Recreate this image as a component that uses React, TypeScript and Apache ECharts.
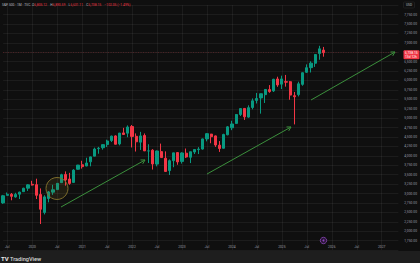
import React, { useEffect, useRef } from "react";
import * as echarts from "echarts";

// Monthly S&P 500 candles, Jun 2019 .. Nov 2025
const START_YEAR = 2019;
const START_MONTH = 6;
const MONTH_COUNT = 96; // axis runs to May 2027

const openValues = [
  2751, 2952, 2980, 2910, 2983, 3050, 3143,
  3245, 3236, 2974, 2499, 2869, 3038, 3105, 3289, 3507, 3386, 3296, 3645,
  3764, 3732, 3842, 3992, 4191, 4216, 4300, 4407, 4529, 4317, 4610, 4602,
  4778, 4519, 4363, 4540, 4131, 4150, 3782, 4113, 3937, 3610, 3872, 4087,
  3853, 4071, 3963, 4102, 4166, 4181, 4450, 4578, 4530, 4284, 4202, 4559,
  4745, 4862, 5098, 5258, 5029, 5283, 5471, 5537, 5624, 5758, 5723, 6040,
  5903, 5969, 5968, 5597, 5625, 5897, 6218, 6340, 6458, 6715, 6806,
];
const closeValues = [
  2942, 2980, 2926, 2977, 3038, 3141, 3231,
  3226, 2954, 2585, 2912, 3044, 3100, 3271, 3500, 3363, 3270, 3622, 3756,
  3714, 3811, 3973, 4181, 4204, 4298, 4395, 4523, 4308, 4605, 4567, 4766,
  4516, 4374, 4530, 4132, 4132, 3785, 4130, 3955, 3586, 3872, 4080, 3840,
  4077, 3970, 4109, 4169, 4180, 4450, 4589, 4508, 4288, 4194, 4568, 4770,
  4846, 5096, 5254, 5036, 5278, 5460, 5522, 5648, 5762, 5705, 6032, 5882,
  6041, 5955, 5612, 5569, 5912, 6205, 6339, 6460, 6688, 6840, 6738.15,
];
const lowValues = [
  2728, 2952, 2822, 2892, 2855, 3050, 3070,
  3214, 2855, 2192, 2447, 2767, 2966, 3101, 3284, 3209, 3233, 3279, 3633,
  3662, 3725, 3723, 3992, 4057, 4165, 4234, 4367, 4306, 4279, 4560, 4495,
  4223, 4115, 4157, 4129, 3811, 3637, 3722, 3955, 3585, 3492, 3699, 3764,
  3795, 3944, 3809, 4049, 4048, 4166, 4385, 4335, 4238, 4104, 4197, 4547,
  4682, 4853, 5057, 4953, 5012, 5234, 5390, 5120, 5403, 5674, 5696, 5832,
  5773, 5837, 5489, 4835, 5578, 5861, 6201, 6212, 6360, 6550, 6631,
];
const highValues = [
  2964, 3028, 3014, 3021, 3050, 3154, 3248,
  3338, 3394, 3137, 2955, 3068, 3233, 3280, 3525, 3588, 3550, 3646, 3760,
  3870, 3950, 3983, 4218, 4238, 4302, 4429, 4538, 4546, 4608, 4744, 4808,
  4819, 4596, 4637, 4594, 4308, 4178, 4140, 4325, 4119, 3906, 4080, 4101,
  4095, 4195, 4110, 4170, 4232, 4458, 4607, 4584, 4541, 4393, 4587, 4793,
  4931, 5111, 5264, 5264, 5341, 5523, 5670, 5651, 5768, 5878, 6044, 6100,
  6128, 6147, 5986, 5696, 5968, 6215, 6427, 6508, 6700, 6920, 6890,
];

const titleParts = ["S&P 500 · 1M · TVC", "6,805.12", "6,890.59", "6,631.11", "6,738.15", "−102.05 (−1.49%)"];
const lastPriceLabel = "6,738.15";
const countdownLabel = "13d 12h";

const categories: string[] = [];
for (let i = 0; i < MONTH_COUNT; i++) {
  const m0 = START_MONTH - 1 + i;
  const y = START_YEAR + Math.floor(m0 / 12);
  const m = (m0 % 12) + 1;
  categories.push(`${y}-${String(m).padStart(2, "0")}`);
}
const candleData = openValues.map((o, i) => [o, closeValues[i], lowValues[i], highValues[i]]);
const lastClose = closeValues[closeValues.length - 1];

const UP = "#089981";
const DOWN = "#f23645";
const TEXT = "#9a9da6";
const FONT = "Roboto, 'Noto Sans', sans-serif";
const FS = 3.3;

const isLabelMonth = (v: string) => v.endsWith("-01") || v.endsWith("-07");

function arrow(x1: number, y1: number, x2: number, y2: number, color: string) {
  const a = Math.atan2(y2 - y1, x2 - x1);
  const L = 4.5;
  const s = Math.PI / 6;
  const p1 = [x2 - L * Math.cos(a - s), y2 - L * Math.sin(a - s)];
  const p2 = [x2 - L * Math.cos(a + s), y2 - L * Math.sin(a + s)];
  return [
    { type: "line", z: 50, shape: { x1, y1, x2, y2 }, style: { stroke: color, lineWidth: 1 } },
    { type: "polyline", z: 50, shape: { points: [p1, [x2, y2], p2] }, style: { stroke: color, lineWidth: 1, fill: null } },
  ];
}

export default function App() {
  const ref = useRef<HTMLDivElement>(null);
  useEffect(() => {
    const chart = echarts.init(ref.current!, undefined, { renderer: "svg", width: 420, height: 263 });
    chart.setOption({
      animation: false,
      backgroundColor: "#0f0f0f",
      textStyle: { fontFamily: FONT },
      grid: { left: 3.08, right: 21.1, top: 5.1, bottom: 12.9 },
      xAxis: {
        type: "category",
        data: categories,
        boundaryGap: false,
        axisLine: { show: false },
        axisTick: { show: false },
        axisLabel: {
          inside: true,
          margin: 1.5,
          interval: (_i: number, v: string) => isLabelMonth(v),
          formatter: (v: string) => (v.endsWith("-07") ? "Jul" : v.slice(0, 4)),
          color: TEXT,
          fontSize: FS,
          fontFamily: FONT,
        },
        splitLine: {
          show: true,
          interval: (_i: number, v: string) => isLabelMonth(v),
          lineStyle: { color: "rgba(242,242,242,0.06)", width: 1 },
        },
      },
      yAxis: {
        type: "value",
        position: "right",
        min: 1500,
        max: 8000,
        interval: 250,
        axisLine: { show: false },
        axisTick: { show: false },
        axisLabel: {
          margin: 6,
          showMinLabel: false,
          showMaxLabel: false,
          color: TEXT,
          fontSize: FS,
          fontFamily: FONT,
          formatter: (v: number) => v.toLocaleString("en-US", { minimumFractionDigits: 2, maximumFractionDigits: 2 }),
        },
        splitLine: { show: true, lineStyle: { color: "rgba(242,242,242,0.06)", width: 1 } },
      },
      series: [
        {
          type: "candlestick",
          data: candleData,
          barWidth: "64%",
          itemStyle: { color: UP, color0: DOWN, borderColor: UP, borderColor0: DOWN, borderWidth: 1 },
          markLine: {
            silent: true,
            symbol: "none",
            label: { show: false },
            lineStyle: { color: "rgba(242,54,69,0.32)", type: [1, 1.5], width: 0.8 },
            data: [{ yAxis: lastClose }],
          },
        },
      ],
    });

    const yPix = chart.convertToPixel({ yAxisIndex: 0 }, lastClose) as number;
    const xPix = chart.convertToPixel({ xAxisIndex: 0 }, categories[openValues.length - 1]) as number;
    const green = "#3b8f3c";
    const g: any[] = [
      {
        type: "text",
        z: 60,
        x: 2,
        y: 4.5,
        style: {
          text: `{g|${titleParts[0]}  O}{r|${titleParts[1]}} {g|H}{r|${titleParts[2]}} {g|L}{r|${titleParts[3]}} {g|C}{r|${titleParts[4]}} {r|${titleParts[5]}}`,
          verticalAlign: "middle",
          rich: {
            g: { fill: "#b2b5be", fontSize: FS, fontFamily: FONT },
            r: { fill: DOWN, fontSize: FS, fontFamily: FONT },
          },
        },
      },
      {
        type: "rect",
        z: 60,
        shape: { x: 403.5, y: 2, width: 11, height: 6, r: 1 },
        style: { fill: "#0f0f0f", stroke: "#2e2e2e", lineWidth: 0.5 },
      },
      {
        type: "text",
        z: 61,
        x: 409,
        y: 5,
        style: { text: "USD", fill: "#b2b5be", fontSize: FS, fontFamily: FONT, align: "center", verticalAlign: "middle" },
      },
      {
        type: "rect",
        z: 60,
        shape: { x: 403.5, y: yPix - 2.4, width: 16, height: 9, r: 1 },
        style: { fill: DOWN },
      },
      {
        type: "text",
        z: 61,
        x: 405,
        y: yPix,
        style: { text: lastPriceLabel, fill: "#ffffff", fontSize: FS, fontFamily: FONT, verticalAlign: "middle" },
      },
      {
        type: "text",
        z: 61,
        x: 405,
        y: yPix + 4,
        style: { text: countdownLabel, fill: "#ffffff", fontSize: FS, fontFamily: FONT, verticalAlign: "middle" },
      },
      {
        type: "circle",
        z: 40,
        shape: { cx: 57, cy: 188.5, r: 11 },
        style: { fill: "rgba(140,120,40,0.14)", stroke: "#7d6d2c", lineWidth: 1 },
      },
      ...arrow(61, 207, 145, 160, green),
      ...arrow(207, 174, 291, 127, green),
      ...arrow(311, 100, 395, 52, green),
      {
        type: "circle",
        z: 50,
        shape: { cx: xPix, cy: 240.5, r: 3.2 },
        style: { fill: "#2a1638", stroke: "#8a45b8", lineWidth: 0.8 },
      },
      {
        type: "circle",
        z: 51,
        shape: { cx: xPix, cy: 240.5, r: 1 },
        style: { fill: "#8a45b8" },
      },
      {
        type: "rect",
        z: 60,
        shape: { x: 0, y: 251, width: 420, height: 12 },
        style: { fill: "#1e1e1e" },
      },
      {
        type: "text",
        z: 61,
        x: 1,
        y: 258.5,
        style: { text: "TV", fill: "#e8e8e8", fontSize: 6, fontWeight: "bold", fontFamily: FONT, verticalAlign: "middle" },
      },
      {
        type: "text",
        z: 61,
        x: 10,
        y: 258.5,
        style: { text: "TradingView", fill: "#d8d8d8", fontSize: 5.6, fontWeight: 500, fontFamily: FONT, verticalAlign: "middle" },
      },
    ];
    chart.setOption({ graphic: g });
    return () => chart.dispose();
  }, []);
  return <div ref={ref} style={{ position: "fixed", left: 0, top: 0, width: 420, height: 263 }} />;
}
